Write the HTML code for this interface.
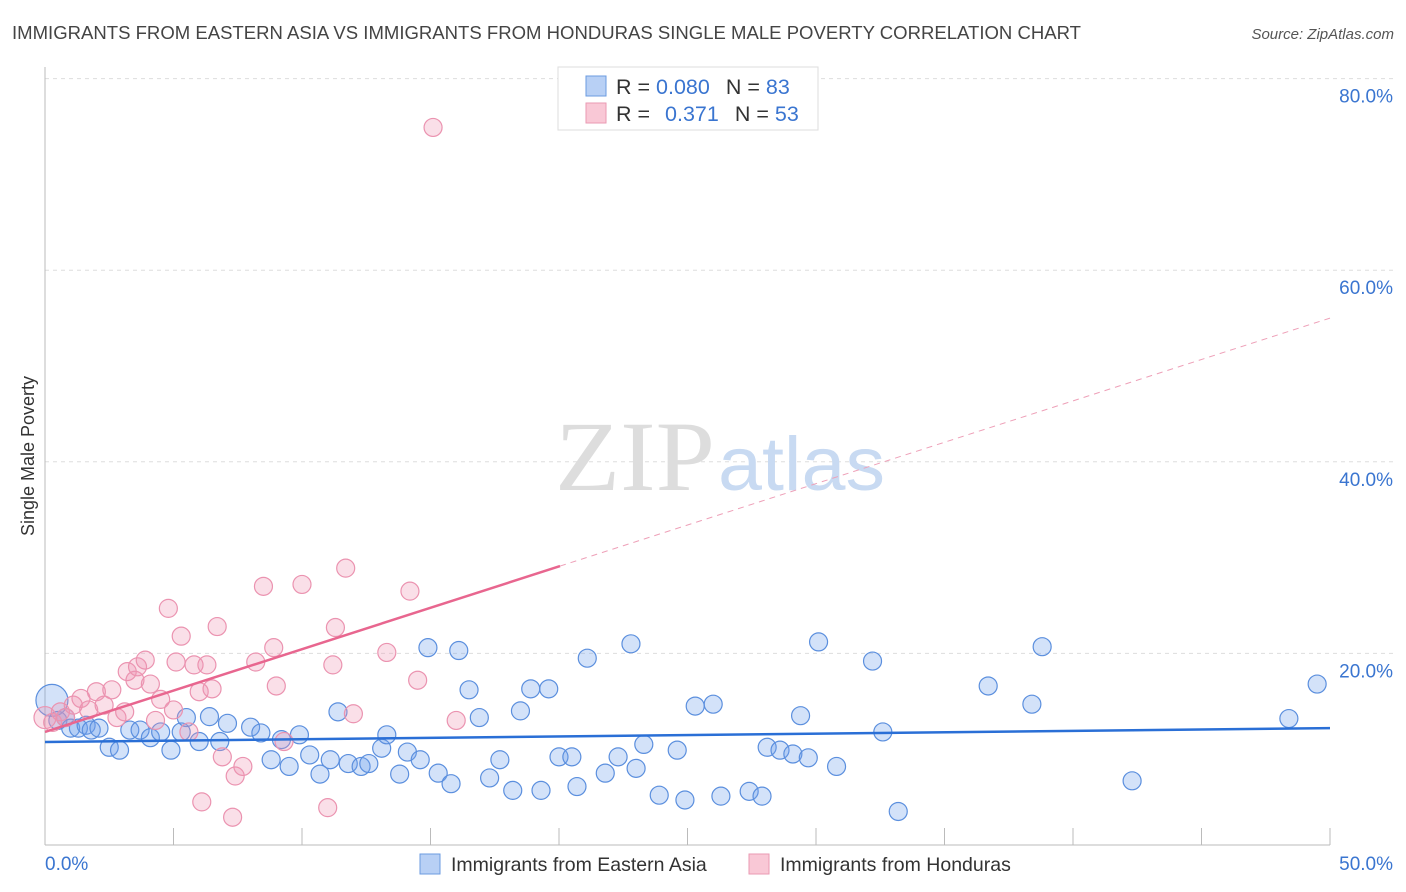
<!DOCTYPE html>
<html><head><meta charset="utf-8"><style>
body{margin:0;background:#fff;font-family:"Liberation Sans",sans-serif;}
#wrap{position:relative;width:1406px;height:892px;overflow:hidden;}
</style></head><body>
<div id="wrap">
<svg id="chart" width="1406" height="892" xmlns="http://www.w3.org/2000/svg">
<text x="12" y="39" font-size="18.6" fill="#444" textLength="1069" lengthAdjust="spacingAndGlyphs">IMMIGRANTS FROM EASTERN ASIA VS IMMIGRANTS FROM HONDURAS SINGLE MALE POVERTY CORRELATION CHART</text>
<text x="1394" y="39" font-size="15" fill="#555" font-style="italic" text-anchor="end">Source: ZipAtlas.com</text>
<g id="grid"></g>
<g>
<text x="555" y="490" font-size="100" font-family="Liberation Serif,serif" fill="#ddd" textLength="160" lengthAdjust="spacingAndGlyphs">ZIP</text>
<text x="718" y="490" font-size="76" fill="#c8daf2" textLength="167" lengthAdjust="spacingAndGlyphs">atlas</text>
</g>
<text transform="translate(34,456) rotate(-90)" font-size="18" fill="#333" text-anchor="middle">Single Male Poverty</text>
<g id="pts"></g>
<g id="lines"></g>
<g>
<rect x="558" y="67" width="260" height="63" fill="#fff" stroke="#ddd"/>
<rect x="586" y="76" width="20" height="20" fill="#b8d0f5" stroke="#6b9be0"/>
<rect x="586" y="103" width="20" height="20" fill="#f9c8d6" stroke="#ea9ab3"/>
<text x="616" y="94" font-size="21.5" fill="#333">R = <tspan fill="#3a75d0">0.080</tspan><tspan dx="16">N = </tspan><tspan fill="#3a75d0">83</tspan></text>
<text x="616" y="121" font-size="21.5" fill="#333">R = <tspan fill="#3a75d0" dx="9">0.371</tspan><tspan dx="16">N = </tspan><tspan fill="#3a75d0">53</tspan></text>
</g>
<g>
<rect x="420" y="854" width="20" height="20" fill="#b8d0f5" stroke="#6b9be0"/>
<text x="451" y="871" font-size="19.5" fill="#333">Immigrants from Eastern Asia</text>
<rect x="749" y="854" width="20" height="20" fill="#f9c8d6" stroke="#ea9ab3"/>
<text x="780" y="871" font-size="19.5" fill="#333">Immigrants from Honduras</text>
</g>
</svg>
</div>
<script>
const yTicks=[20,40,60,80];
const yTickLabels=["20.0%","40.0%","60.0%","80.0%"];
const xEnds=["0.0%","50.0%"];
const blueX=[0.27,0.5,0.8,1.0,1.3,1.6,1.8,2.1,2.5,2.9,3.3,3.7,4.1,4.5,4.9,5.3,5.5,6.0,6.4,6.8,7.1,8.0,8.4,8.8,9.2,9.5,9.9,10.3,10.7,11.1,11.4,11.8,12.3,12.6,13.1,13.3,13.8,14.1,14.6,14.9,15.3,15.8,16.1,16.5,16.9,17.3,17.7,18.2,18.5,18.9,19.3,19.6,20.0,20.5,20.7,21.1,21.8,22.3,22.8,23.0,23.3,23.9,24.6,24.9,25.3,26.0,26.3,27.4,27.9,28.1,28.6,29.1,29.4,29.7,30.1,30.8,32.2,32.6,33.2,36.7,38.4,38.8,42.3,48.4,49.5];
const blueY=[15.1,13.0,13.3,12.2,12.2,12.5,12.0,12.2,10.2,9.9,12.0,12.0,11.2,11.8,9.9,11.8,13.3,10.8,13.4,10.8,12.7,12.3,11.7,8.9,11.0,8.2,11.5,9.4,7.4,8.9,13.9,8.5,8.2,8.5,10.1,11.5,7.4,9.7,8.9,20.6,7.5,6.4,20.3,16.2,13.3,7.0,8.9,5.7,14.0,16.3,5.7,16.3,9.2,9.2,6.1,19.5,7.5,9.2,21.0,8.0,10.5,5.2,9.9,4.7,14.5,14.7,5.1,5.6,5.1,10.2,9.9,9.5,13.5,9.1,21.2,8.2,19.2,11.8,3.5,16.6,14.7,20.7,6.7,13.2,16.8];
const pinkX=[0.0,0.3,0.6,0.8,1.1,1.4,1.7,2.0,2.3,2.6,2.8,3.1,3.2,3.5,3.6,3.9,4.1,4.3,4.5,4.8,5.0,5.1,5.3,5.6,5.8,6.0,6.3,6.5,6.7,6.9,6.1,7.3,7.4,7.7,8.2,8.5,8.9,9.0,9.3,10.0,11.0,11.3,11.2,11.7,12.0,13.3,14.2,14.5,15.1,16.0];
const pinkY=[13.3,12.8,13.9,13.3,14.6,15.3,14.1,16.0,14.6,16.2,13.3,13.9,18.1,17.2,18.6,19.3,16.8,13.0,15.2,24.7,14.1,19.1,21.8,11.8,18.8,16.0,18.8,16.3,22.8,9.2,4.5,2.9,7.2,8.2,19.1,27.0,20.6,16.6,10.8,27.2,3.9,22.7,18.8,28.9,13.7,20.1,26.5,17.2,74.9,13.0];
const blueTrend=[10.75,12.2];
const pinkTrend=[11.8,55.0];
const pinkSolidEnd=20.04;
const X=v=>45+v*25.7, Y=v=>845-v*9.58;
const NS="http://www.w3.org/2000/svg";
function mk(t,a,p){const e=document.createElementNS(NS,t);for(const k in a)e.setAttribute(k,a[k]);p.appendChild(e);return e;}
const grid=document.getElementById('grid');
yTicks.forEach((t,i)=>{
 const l=mk('line',{x1:45,x2:1395,y1:Y(t),y2:Y(t),stroke:'#ddd','stroke-dasharray':'4,4'},grid);
 
 
 const tx=mk('text',{x:1393,y:Y(t)+24,'font-size':19,fill:'#3a75d0','text-anchor':'end'},grid);
 tx.textContent=yTickLabels[i];
 
 
});
const ax=mk('line',{x1:45,x2:45,y1:67,y2:845,stroke:'#bbb'},grid);


const bx=mk('line',{x1:45,x2:1330,y1:845,y2:845,stroke:'#bbb'},grid);


for(let v=5;v<=50;v+=5){const t=mk('line',{x1:X(v),x2:X(v),y1:828,y2:845,stroke:'#bbb'},grid);
 
 }
xEnds.forEach((s,i)=>{const t=mk('text',{x:i?1393:45,y:870,'font-size':19,fill:'#3a75d0','text-anchor':i?'end':'start'},grid);t.textContent=s;
 
 });
const pts=document.getElementById('pts');
blueX.forEach((x,i)=>{const c=mk('circle',{cx:X(x),cy:Y(blueY[i]),r:i==0?16:9,fill:'rgba(110,160,235,0.3)',stroke:'#5b8fde','stroke-width':1.2},pts);
 
 });
pinkX.forEach((x,i)=>{const c=mk('circle',{cx:X(x),cy:Y(pinkY[i]),r:i==0?11:9,fill:'rgba(240,150,180,0.3)',stroke:'#eb93b0','stroke-width':1.2},pts);
 
 });
const lines=document.getElementById('lines');
const b=mk('line',{x1:X(0),y1:Y(blueTrend[0]),x2:X(50),y2:Y(blueTrend[1]),stroke:'#2a6fd6','stroke-width':2.5},lines);


const py=v=>pinkTrend[0]+(pinkTrend[1]-pinkTrend[0])*v/50;
const p1=mk('line',{x1:X(0),y1:Y(py(0)),x2:X(pinkSolidEnd),y2:Y(py(pinkSolidEnd)),stroke:'#e8668f','stroke-width':2.5},lines);


const p2=mk('line',{x1:X(pinkSolidEnd),y1:Y(py(pinkSolidEnd)),x2:X(50),y2:Y(py(50)),stroke:'#eea0b8','stroke-width':1,'stroke-dasharray':'6,5'},lines);


</script>
</body></html>
